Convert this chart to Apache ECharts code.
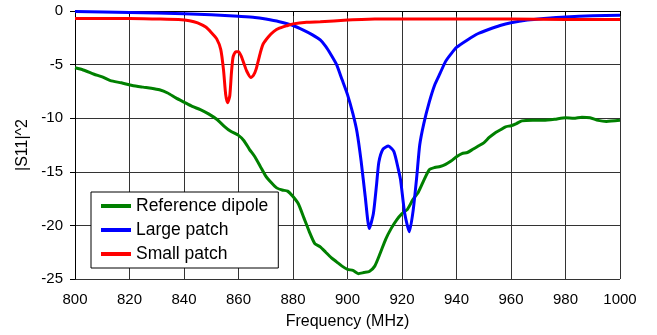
<!DOCTYPE html>
<html>
<head>
<meta charset="utf-8">
<script src="https://cdn.jsdelivr.net/npm/echarts@6/dist/echarts.min.js"></script>
<style>html,body{margin:0;padding:0;background:#fff}#c{width:657px;height:335px}</style>
</head>
<body>
<div id="c"></div>
<script>
const seriesNames = ['Reference dipole', 'Large patch', 'Small patch'];
const xTicks = [800, 820, 840, 860, 880, 900, 920, 940, 960, 980, 1000];
const yTicks = [-25, -20, -15, -10, -5, 0];

const dipoleFreq = [800,803,807,810,813,817,821,825,828,831,834,837,840,843,846,849,852,855,857,860,862,864,866,868,870,872,874,876,878,880,882,884,886,888,890,892,894,896,898,900,902,904,906,908,910,912,914,916,918,920,922,924,926,928,930,932,934,936,938,940,942,944,946,948,950,952,954,956,958,960,962,964,968,972,976,980,983,986,989,992,995,1000];
const dipoleVals = [-5.3,-5.5,-5.9,-6.15,-6.5,-6.7,-6.95,-7.1,-7.2,-7.35,-7.65,-8.1,-8.5,-8.9,-9.2,-9.6,-10.1,-10.8,-11.2,-11.6,-12.1,-12.9,-13.6,-14.5,-15.4,-16.0,-16.5,-16.7,-16.8,-17.3,-18.0,-19.3,-20.6,-21.7,-22.0,-22.5,-23.0,-23.4,-23.8,-24.1,-24.2,-24.5,-24.4,-24.3,-23.8,-22.6,-21.3,-20.3,-19.5,-18.9,-18.5,-17.6,-16.9,-15.8,-14.8,-14.6,-14.5,-14.3,-14.0,-13.6,-13.3,-13.2,-12.9,-12.6,-12.3,-11.8,-11.4,-11.1,-10.8,-10.7,-10.5,-10.25,-10.2,-10.2,-10.1,-9.95,-10.0,-9.9,-9.95,-10.2,-10.3,-10.2];

const largeFreq = [800,820,840,850,860,866,870,875,880,884,887,890,892,894,896,898,900,902,903.5,905,906.5,908,909.5,910.7,911.5,913,915,917,918.6,919.5,921,922.7,924.1,925.4,926.5,928,930,932,934,936,938,940,944,948,952,956,960,966,972,980,990,1000];
const largeVals = [-0.05,-0.15,-0.25,-0.35,-0.5,-0.6,-0.75,-1.0,-1.35,-1.8,-2.2,-2.7,-3.3,-4.1,-5.0,-6.4,-7.8,-9.6,-11.3,-14.0,-17.3,-20.3,-18.9,-16.1,-14.1,-12.9,-12.6,-13.1,-14.7,-15.8,-18.9,-20.6,-18.6,-15.5,-12.5,-10.5,-8.5,-6.9,-5.8,-4.7,-4.0,-3.4,-2.7,-2.1,-1.7,-1.35,-1.1,-0.85,-0.7,-0.55,-0.45,-0.4];

const smallFreq = [800,820,830,838,842,845,848,850,852,853.5,854.5,855.3,856,856.8,857.4,858,859,860,861,862,863,864.5,865.5,866.5,868,869,871,873,875,878,880,885,890,900,910,920,940,960,980,1000];
const smallVals = [-0.7,-0.7,-0.75,-0.8,-0.9,-1.1,-1.5,-2.0,-2.6,-3.6,-5.5,-7.8,-8.55,-7.9,-5.8,-4.3,-3.8,-3.8,-4.2,-4.9,-5.6,-6.2,-6.0,-5.4,-3.9,-3.1,-2.4,-1.9,-1.6,-1.35,-1.2,-1.05,-1.0,-0.85,-0.75,-0.75,-0.75,-0.75,-0.8,-0.8];

const colors = ['#008000', '#0000ff', '#ff0000'];
const zip = (xs, ys) => xs.map((x, i) => [x, ys[i]]);
const datasets = [zip(dipoleFreq, dipoleVals), zip(largeFreq, largeVals), zip(smallFreq, smallVals)];

const chart = echarts.init(document.getElementById('c'));
const font = '"Liberation Sans", Arial, sans-serif';
chart.setOption({
  animation: false,
  textStyle: { fontFamily: font },
  grid: { left: 75, right: 37, top: 11, bottom: 54, show: false },
  legend: {
    data: seriesNames,
    orient: 'vertical',
    left: 91, top: 192,
    icon: 'rect', itemWidth: 30, itemHeight: 4, itemGap: 4,
    backgroundColor: '#fff', borderColor: '#000', borderWidth: 1,
    padding: [4, 10, 4, 10],
    textStyle: { fontFamily: font, fontSize: 17.5, color: '#000', lineHeight: 20 }
  },
  xAxis: {
    type: 'value', min: xTicks[0], max: xTicks[xTicks.length - 1], interval: 20,
    name: 'Frequency (MHz)', nameLocation: 'middle', nameGap: 35,
    nameTextStyle: { fontFamily: font, fontSize: 16, color: '#000' },
    axisLine: { show: true, lineStyle: { color: '#000', width: 1 } },
    axisTick: { show: true, length: 5, lineStyle: { color: '#000' } },
    axisLabel: { fontFamily: font, fontSize: 15, color: '#000', margin: 13, formatter: v => String(v) },
    splitLine: { show: true, lineStyle: { color: '#333', width: 1 } }
  },
  yAxis: {
    type: 'value', min: yTicks[0], max: yTicks[yTicks.length - 1], interval: 5,
    name: '|S11|^2', nameLocation: 'middle', nameGap: 40,
    nameTextStyle: { fontFamily: font, fontSize: 16, color: '#000' },
    axisLine: { show: true, lineStyle: { color: '#000', width: 1 } },
    axisTick: { show: true, length: 5, lineStyle: { color: '#000' } },
    axisLabel: { fontFamily: font, fontSize: 15, color: '#000', margin: 12, formatter: v => String(v) },
    splitLine: { show: true, lineStyle: { color: '#333', width: 1 } }
  },
  series: seriesNames.map((n, i) => ({
    name: n, type: 'line', data: datasets[i], showSymbol: false, symbol: 'none',
    smooth: 0.2, color: colors[i],
    lineStyle: { color: colors[i], width: 3 }
  }))
});
</script>
</body>
</html>
